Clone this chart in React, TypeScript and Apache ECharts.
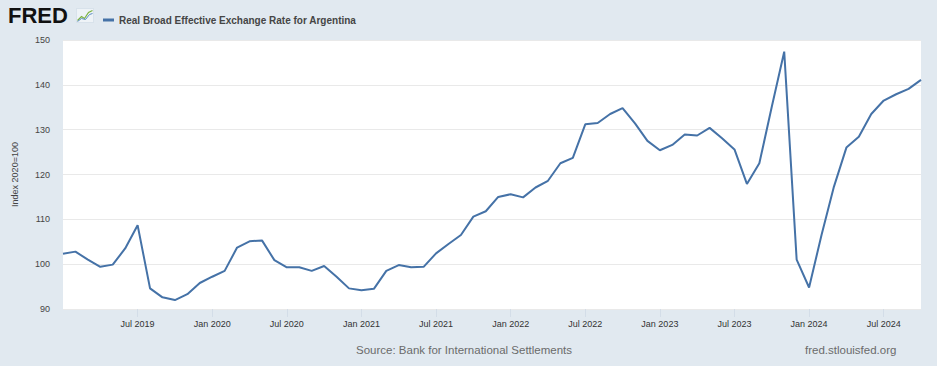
import React, { useEffect, useRef } from "react";
import * as echarts from "echarts";

const START_YEAR = 2019;
const START_MONTH = 1;
const MONTH_NAMES = ["Jan", "Feb", "Mar", "Apr", "May", "Jun", "Jul", "Aug", "Sep", "Oct", "Nov", "Dec"];

const values: number[] = [
  102.3, 102.8, 101.0, 99.4, 99.9, 103.5, 108.7, 94.6, 92.6, 92.0, 93.3, 95.8,
  97.2, 98.5, 103.7, 105.1, 105.3, 100.9, 99.3, 99.3, 98.5, 99.6, 97.2, 94.6,
  94.2, 94.5, 98.5, 99.8, 99.3, 99.4, 102.4, 104.5, 106.5, 110.6, 111.8, 115.0,
  115.6, 114.9, 117.1, 118.6, 122.5, 123.7, 131.2, 131.5, 133.5, 134.8, 131.4, 127.5,
  125.4, 126.6, 128.9, 128.7, 130.4, 128.1, 125.6, 117.9, 122.5, 135.1, 147.4, 101.0,
  94.8, 106.5, 117.3, 126.0, 128.4, 133.5, 136.5, 137.9, 139.1, 141.1,
];

const categories: string[] = values.map((_, i) => {
  const m = (START_MONTH - 1 + i) % 12;
  const y = START_YEAR + Math.floor((START_MONTH - 1 + i) / 12);
  return `${y}-${String(m + 1).padStart(2, "0")}`;
});

const yTicks = { min: 90, max: 150, interval: 10 };

const SERIES_NAME = "Real Broad Effective Exchange Rate for Argentina";
const Y_TITLE = "Index 2020=100";
const SOURCE = "Source: Bank for International Settlements";
const SITE = "fred.stlouisfed.org";

const FONT = "'Liberation Sans', Arial, sans-serif";

const showTick = (i: number) => i > 0 && i % 6 === 0;

export default function App() {
  const ref = useRef<HTMLDivElement>(null);
  useEffect(() => {
    if (!ref.current) return;
    const chart = echarts.init(ref.current, undefined, { renderer: "svg" });
    chart.setOption({
      animation: false,
      backgroundColor: "#e1e9f0",
      textStyle: { fontFamily: FONT },
      grid: {
        left: 63,
        right: 16,
        top: 40,
        bottom: 57,
        show: true,
        backgroundColor: "#ffffff",
        borderWidth: 0,
      },
      legend: {
        show: true,
        left: 98,
        top: 10,
        icon: "rect",
        itemWidth: 11,
        itemHeight: 3,
        itemGap: 5,
        textStyle: { fontFamily: FONT, fontSize: 10, color: "#454545", fontWeight: 600 },
        data: [SERIES_NAME],
      },
      xAxis: {
        type: "category",
        data: categories,
        boundaryGap: false,
        axisLine: { show: false },
        axisTick: {
          show: true,
          interval: (i: number) => showTick(i),
          length: 8,
          lineStyle: { color: "#d3dde8" },
        },
        axisLabel: {
          interval: (i: number) => showTick(i),
          margin: 10,
          fontSize: 9,
          color: "#333",
          fontFamily: FONT,
          formatter: (v: string) => {
            const [y, m] = v.split("-");
            return `${MONTH_NAMES[parseInt(m, 10) - 1]} ${y}`;
          },
        },
        splitLine: { show: false },
      },
      yAxis: {
        type: "value",
        min: yTicks.min,
        max: yTicks.max,
        interval: yTicks.interval,
        name: Y_TITLE,
        nameLocation: "middle",
        nameRotate: 90,
        nameGap: 44,
        nameTextStyle: { fontSize: 9, color: "#444", fontFamily: FONT },
        axisLine: { show: false },
        axisTick: { show: false },
        axisLabel: { fontSize: 9, color: "#444", margin: 13, fontFamily: FONT },
        splitLine: { lineStyle: { color: "#e9e9e9", width: 1 } },
      },
      series: [
        {
          name: SERIES_NAME,
          type: "line",
          data: values,
          symbol: "none",
          lineStyle: { color: "#4572a7", width: 2 },
          itemStyle: { color: "#4572a7" },
        },
      ],
      graphic: [
        {
          type: "text",
          left: 8,
          top: 4,
          style: {
            text: "FRED",
            font: `bold 22px ${FONT}`,
            fill: "#111",
          },
        },
        {
          type: "group",
          left: 75,
          top: 8,
          children: [
            { type: "rect", shape: { x: 0, y: 0, width: 17, height: 14 }, style: { fill: "#eef3f7", stroke: "#c9d6e2", lineWidth: 0.5 } },
            { type: "polyline", shape: { points: [[1, 12], [5, 8], [8, 10], [12, 4], [16, 2]] }, style: { stroke: "#7cb342", lineWidth: 1.2, fill: "none" } },
            { type: "polyline", shape: { points: [[1, 13], [5, 10], [9, 11], [13, 6], [16, 5]] }, style: { stroke: "#5b8cc4", lineWidth: 1, fill: "none" } },
          ],
        },
        {
          type: "text",
          left: 356,
          top: 344,
          style: { text: SOURCE, font: `11.5px ${FONT}`, fill: "#6b6b6b" },
        },
        {
          type: "text",
          left: 805,
          top: 344,
          style: { text: SITE, font: `11.5px ${FONT}`, fill: "#6b6b6b" },
        },
      ],
    });
    return () => chart.dispose();
  }, []);
  return <div ref={ref} style={{ width: 937, height: 366, position: "absolute", left: 0, top: 0 }} />;
}
